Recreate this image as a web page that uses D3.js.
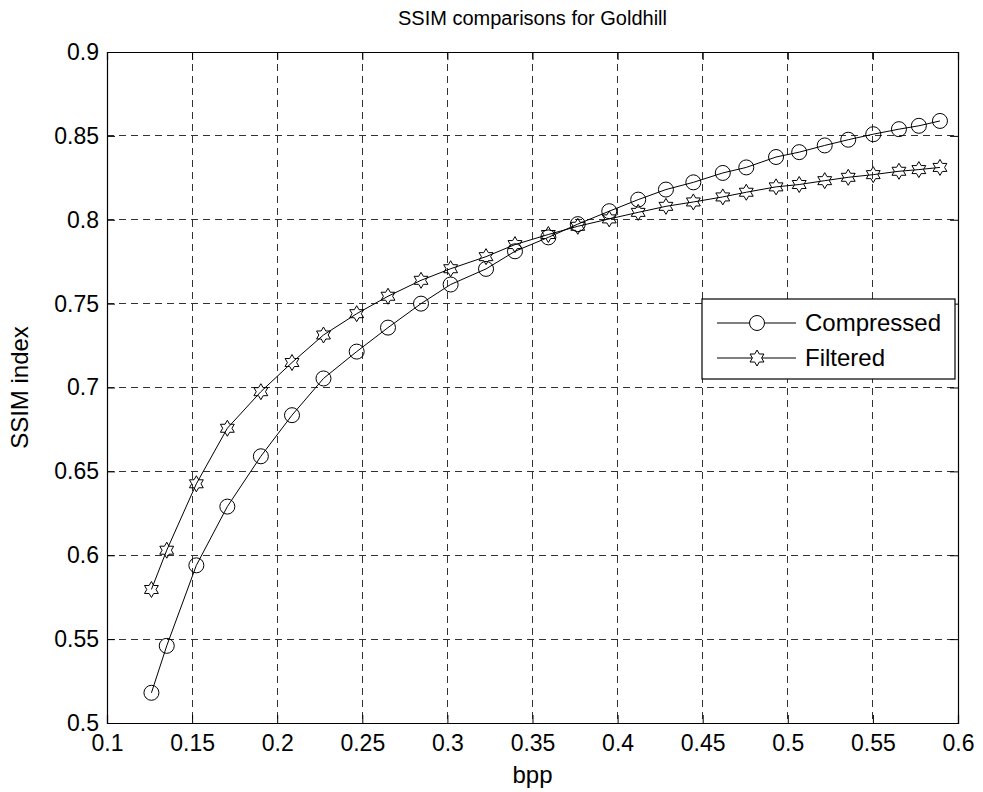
<!DOCTYPE html>
<html>
<head>
<meta charset="utf-8">
<script src="https://cdn.jsdelivr.net/npm/d3@7"></script>
<style>
  body { margin: 0; background: #fff; }
  text { font-family: "Liberation Sans", Arial, sans-serif; fill: #000; }
</style>
</head>
<body>
<div id="chart"></div>
<script>
// bpp values (shared by both series)
var bpp = [0.1261, 0.1351, 0.1525, 0.1707, 0.1904, 0.2087, 0.2272, 0.2467, 0.2651, 0.2845,
           0.3019, 0.3227, 0.3397, 0.3593, 0.3766, 0.3951, 0.4121, 0.4284, 0.4445, 0.4618,
           0.4756, 0.4931, 0.5067, 0.5217, 0.5355, 0.5502, 0.5653, 0.5770, 0.5894];

var compressed = [0.518, 0.546, 0.594, 0.629, 0.659, 0.6835, 0.7054, 0.7214, 0.7357, 0.750,
                  0.7614, 0.7707, 0.7812, 0.7895, 0.7974, 0.8051, 0.812, 0.818, 0.8223, 0.8279,
                  0.8312, 0.8374, 0.8403, 0.8443, 0.8477, 0.851, 0.854, 0.856, 0.8589];

var filtered = [0.5796, 0.603, 0.6426, 0.6757, 0.6975, 0.7149, 0.7313, 0.744, 0.7544, 0.7639,
                0.7708, 0.778, 0.7852, 0.7912, 0.7961, 0.8005, 0.8044, 0.808, 0.8106, 0.8136,
                0.8164, 0.8196, 0.821, 0.8233, 0.8253, 0.8269, 0.8289, 0.8299, 0.8312];

var xTicks = [0.1, 0.15, 0.2, 0.25, 0.3, 0.35, 0.4, 0.45, 0.5, 0.55, 0.6];
var yTicks = [0.5, 0.55, 0.6, 0.65, 0.7, 0.75, 0.8, 0.85, 0.9];
var seriesNames = ["Compressed", "Filtered"];

var W = 983, H = 792;
var margin = { top: 52, right: 25, bottom: 69, left: 107 };
var width = W - margin.left - margin.right,
    height = H - margin.top - margin.bottom;

var svg = d3.select("#chart").append("svg")
    .attr("width", W)
    .attr("height", H);

var g = svg.append("g")
    .attr("transform", "translate(" + margin.left + "," + margin.top + ")");

var x = d3.scaleLinear().domain([0.1, 0.6]).range([0, width]);
var y = d3.scaleLinear().domain([0.5, 0.9]).range([height, 0]);

// grid
g.selectAll(".gx").data(xTicks.slice(1, -1)).enter().append("line")
    .attr("x1", function(d){ return x(d); }).attr("x2", function(d){ return x(d); })
    .attr("y1", 0).attr("y2", height)
    .attr("stroke", "#000").attr("stroke-width", 1).attr("stroke-dasharray", "7,5")
    .attr("shape-rendering", "crispEdges").attr("opacity", 0.8);
g.selectAll(".gy").data(yTicks.slice(1, -1)).enter().append("line")
    .attr("y1", function(d){ return y(d); }).attr("y2", function(d){ return y(d); })
    .attr("x1", 0).attr("x2", width)
    .attr("stroke", "#000").attr("stroke-width", 1).attr("stroke-dasharray", "7,5")
    .attr("shape-rendering", "crispEdges").attr("opacity", 0.8);

// axes (ticks inward, on all four sides)
var tickLen = 8;
var xAxis = d3.axisBottom(x).tickValues(xTicks).tickSize(-tickLen).tickPadding(12)
    .tickFormat(d3.format("~g"));
var yAxis = d3.axisLeft(y).tickValues(yTicks).tickSize(-tickLen).tickPadding(8)
    .tickFormat(d3.format("~g"));

var xa = g.append("g").attr("transform", "translate(0," + height + ")").call(xAxis);
var ya = g.append("g").call(yAxis);
var xt = g.append("g").call(d3.axisTop(x).tickValues(xTicks).tickSize(-tickLen).tickFormat(""));
var yr = g.append("g").attr("transform", "translate(" + width + ",0)")
    .call(d3.axisRight(y).tickValues(yTicks).tickSize(-tickLen).tickFormat(""));

[xa, ya, xt, yr].forEach(function(a){
    a.select(".domain").attr("stroke", "#000").attr("stroke-width", 1.2);
    a.selectAll(".tick line").attr("stroke", "#000");
    a.selectAll("text").style("font-size", "23px").style("font-family", "Liberation Sans, Arial, sans-serif");
});

// lines
var line = d3.line()
    .x(function(d){ return x(d[0]); })
    .y(function(d){ return y(d[1]); });

var compData = bpp.map(function(b, i){ return [b, compressed[i]]; });
var filtData = bpp.map(function(b, i){ return [b, filtered[i]]; });

g.append("path").datum(compData).attr("d", line)
    .attr("fill", "none").attr("stroke", "#000").attr("stroke-width", 1);
g.append("path").datum(filtData).attr("d", line)
    .attr("fill", "none").attr("stroke", "#000").attr("stroke-width", 1);

// hexagram outline centred at 0,0
function hexagram(r){
    var pts = [];
    for (var k = 0; k < 12; k++) {
        var a = -Math.PI / 2 + k * Math.PI / 6;
        var rr = (k % 2 === 0) ? r : r / Math.sqrt(3);
        pts.push([rr * Math.cos(a), rr * Math.sin(a)]);
    }
    return "M" + pts.map(function(p){ return p[0].toFixed(2) + "," + p[1].toFixed(2); }).join("L") + "Z";
}

g.selectAll(".circ").data(compData).enter().append("circle")
    .attr("cx", function(d){ return x(d[0]); })
    .attr("cy", function(d){ return y(d[1]); })
    .attr("r", 7.5)
    .attr("fill", "none").attr("stroke", "#000").attr("stroke-width", 1);

g.selectAll(".star").data(filtData).enter().append("path")
    .attr("d", hexagram(8))
    .attr("transform", function(d){ return "translate(" + x(d[0]) + "," + y(d[1]) + ")"; })
    .attr("fill", "none").attr("stroke", "#000").attr("stroke-width", 1);

// title and labels
svg.append("text").attr("x", margin.left + width / 2).attr("y", 25)
    .attr("text-anchor", "middle").style("font-size", "20px")
    .text("SSIM comparisons for Goldhill");
svg.append("text").attr("x", margin.left + width / 2).attr("y", 783)
    .attr("text-anchor", "middle").style("font-size", "24px")
    .text("bpp");
svg.append("text")
    .attr("transform", "translate(28," + (margin.top + height / 2) + ") rotate(-90)")
    .attr("text-anchor", "middle").style("font-size", "24px")
    .text("SSIM index");

// legend
var lg = svg.append("g").attr("transform", "translate(702,299)");
lg.append("rect").attr("width", 253).attr("height", 80)
    .attr("fill", "#fff").attr("stroke", "#000").attr("stroke-width", 1.2);
seriesNames.forEach(function(name, i){
    var yy = 24 + i * 35;
    lg.append("line").attr("x1", 15).attr("x2", 94).attr("y1", yy).attr("y2", yy)
        .attr("stroke", "#000").attr("stroke-width", 1);
    if (i === 0) {
        lg.append("circle").attr("cx", 55).attr("cy", yy).attr("r", 7.5)
            .attr("fill", "#fff").attr("stroke", "#000");
    } else {
        lg.append("path").attr("d", hexagram(8)).attr("transform", "translate(55," + yy + ")")
            .attr("fill", "#fff").attr("stroke", "#000");
    }
    lg.append("text").attr("x", 103).attr("y", yy + 8).style("font-size", "24px").text(name);
});
</script>
</body>
</html>
